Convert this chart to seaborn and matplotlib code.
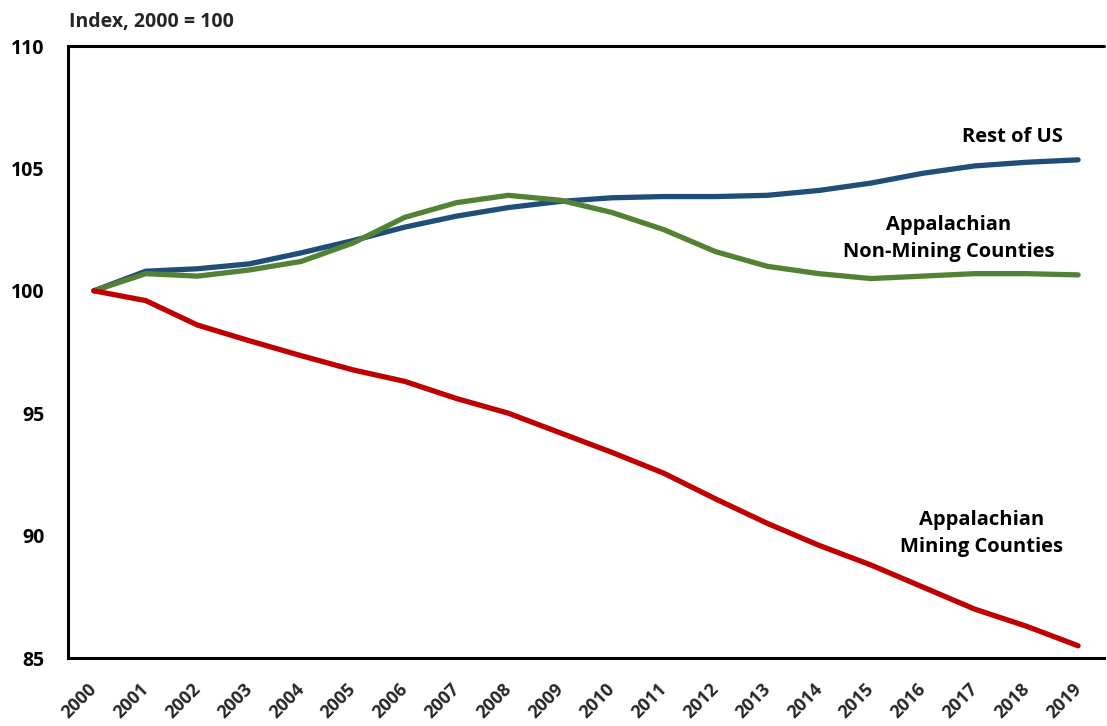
import matplotlib
matplotlib.use("Agg")
import matplotlib.pyplot as plt
import matplotlib.transforms as mtransforms
import seaborn as sns
import pandas as pd
import numpy as np

years = [str(y) for y in range(2000, 2020)]
rest_of_us = [100.0, 100.8, 100.9, 101.1, 101.55, 102.05, 102.6, 103.05, 103.4, 103.65,
              103.8, 103.85, 103.85, 103.9, 104.1, 104.4, 104.8, 105.1, 105.25, 105.35]
non_mining = [100.0, 100.7, 100.6, 100.85, 101.2, 101.95, 103.0, 103.6, 103.9, 103.7,
              103.2, 102.5, 101.6, 101.0, 100.7, 100.5, 100.6, 100.7, 100.7, 100.65]
mining = [100.0, 99.6, 98.6, 97.96, 97.35, 96.77, 96.3, 95.6, 95.0, 94.2,
          93.4, 92.55, 91.5, 90.5, 89.6, 88.8, 87.9, 87.0, 86.3, 85.5]

series_names = ["Rest of US", "Appalachian\nNon-Mining Counties", "Appalachian\nMining Counties"]
colors = ["#1F4E79", "#548235", "#C00000"]

df = pd.DataFrame({
    "pos": list(range(len(years))) * 3,
    "value": rest_of_us + non_mining + mining,
    "series": np.repeat(series_names, len(years)),
})

sns.set_theme(style="white")
plt.rcParams["font.family"] = ["Open Sans", "DejaVu Sans"]
plt.rcParams["font.weight"] = "bold"

fig = plt.figure(figsize=(11.07, 7.26), dpi=100)
ax = fig.add_axes([68 / 1107, 68 / 726, (1104 - 68) / 1107, (658 - 46) / 726])

sns.lineplot(data=df, x="pos", y="value", hue="series", palette=dict(zip(series_names, colors)),
             linewidth=3.8, legend=False, ax=ax, solid_capstyle="round", solid_joinstyle="round")

ax.set_xlim(-0.5, len(years) - 0.5)
ax.set_ylim(85, 110)
ax.set_yticks([85, 90, 95, 100, 105, 110])
ax.set_yticklabels(["85", "90", "95", "100", "105", "110"], fontsize=14, fontweight="bold")

# category boundaries carry the tick marks, labels sit at category centres
ax.set_xticks(np.arange(-0.5, len(years), 1.0))
ax.set_xticklabels([])
ax.set_xticks(np.arange(len(years)), minor=True)
ax.set_xticklabels(years, minor=True, rotation=45, ha="right", va="top",
                   rotation_mode="anchor", fontsize=13, fontweight="bold")
ax.tick_params(axis="x", which="minor", length=0, pad=16)
ax.tick_params(axis="x", which="major", length=6, width=2, color="black", direction="out")
ax.tick_params(axis="y", length=6, width=2, color="black", direction="out", pad=11)
ax.tick_params(axis="y", labelcolor="black")

shift = mtransforms.ScaledTranslation(-6 / 100, 0, fig.dpi_scale_trans)
for lbl in ax.get_xticklabels(minor=True):
    lbl.set_transform(lbl.get_transform() + shift)

for side in ["top", "right"]:
    ax.spines[side].set_visible(False)
for side in ["left", "bottom"]:
    ax.spines[side].set_visible(True)
    ax.spines[side].set_color("black")
    ax.spines[side].set_linewidth(2.2)

ax.set_xlabel("")
ax.set_ylabel("")

# horizontal line at the top of the value axis
ax.axhline(110, color="black", linewidth=2.2, clip_on=False)

fig.text(69 / 1107, 1 - 22 / 726, "Index, 2000 = 100", fontsize=14, fontweight="bold",
         ha="left", va="center")

label_pos = [(17.74, 106.3), (16.5, 102.14), (17.14, 90.1)]
for name, (lx, ly) in zip(series_names, label_pos):
    ax.text(lx, ly, name, ha="center", va="center", fontsize=14.5, fontweight="bold",
            linespacing=1.45, color="black")

fig.savefig("out.png", dpi=100)
